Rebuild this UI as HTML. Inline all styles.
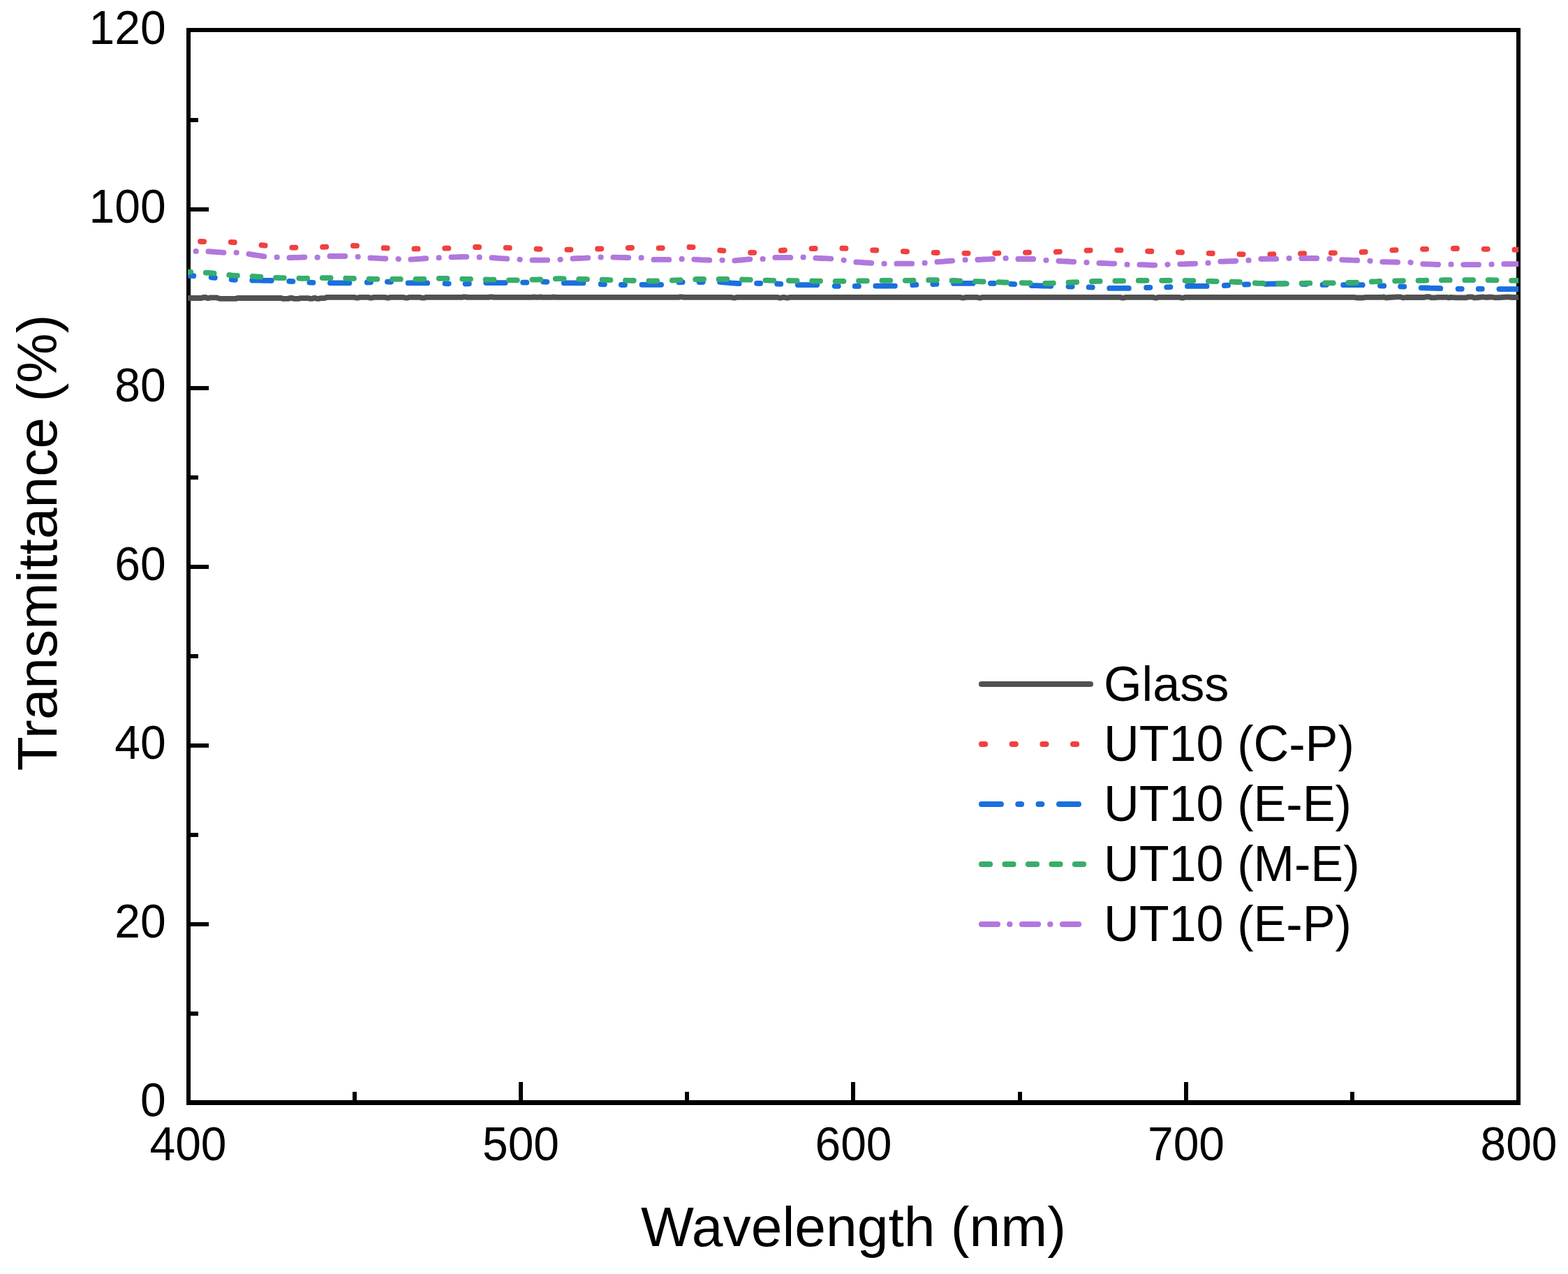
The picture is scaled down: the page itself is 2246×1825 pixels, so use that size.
<!DOCTYPE html>
<html lang="en">
<head>
<meta charset="utf-8">
<title>Transmittance vs Wavelength</title>
<style>
html,body{margin:0;padding:0;background:#fff;}
body{width:2246px;height:1825px;overflow:hidden;}
svg{display:block;}
text{font-family:"Liberation Sans", sans-serif;fill:#000;}
.tick{font-size:66px;}
.title{font-size:80.4px;}
.leg{font-size:70.2px;}
</style>
</head>
<body>
<svg width="2246" height="1825" viewBox="0 0 2246 1825">
<rect x="0" y="0" width="2246" height="1825" fill="#ffffff"/>
<g fill="#000" shape-rendering="crispEdges">
<rect x="267" y="40" width="6" height="1543"/>
<rect x="2172" y="40" width="6" height="1543"/>
<rect x="267" y="40" width="1911" height="6"/>
<rect x="267" y="1576" width="1911" height="7"/>
<rect x="273" y="1449" width="11" height="6"/>
<rect x="273" y="1321" width="26" height="6"/>
<rect x="273" y="1193" width="11" height="6"/>
<rect x="273" y="1065" width="26" height="6"/>
<rect x="273" y="937" width="11" height="6"/>
<rect x="273" y="809" width="26" height="6"/>
<rect x="273" y="681" width="11" height="6"/>
<rect x="273" y="553" width="26" height="6"/>
<rect x="273" y="425" width="11" height="6"/>
<rect x="273" y="297" width="26" height="6"/>
<rect x="273" y="169" width="11" height="6"/>
<rect x="505" y="1564" width="6" height="12"/>
<rect x="743" y="1550" width="6" height="26"/>
<rect x="981" y="1564" width="6" height="12"/>
<rect x="1219" y="1550" width="6" height="26"/>
<rect x="1458" y="1564" width="6" height="12"/>
<rect x="1696" y="1550" width="6" height="26"/>
<rect x="1934" y="1564" width="6" height="12"/>
</g>
<defs><clipPath id="plot"><rect x="269" y="40" width="1906" height="1543"/></clipPath></defs>
<g clip-path="url(#plot)" fill="none" stroke-width="7.8" stroke-linecap="round" stroke-linejoin="round">
<path d="M262.0 427.0 L289.0 427.0 L291.0 426.0 L295.0 426.0 L297.0 427.2 L299.0 427.2 L301.0 426.3 L310.0 426.3 L315.0 427.9 L338.0 427.9 L340.0 427.0 L403.0 427.0 L405.0 427.9 L413.0 427.9 L415.0 427.0 L419.0 427.0 L421.0 427.9 L428.0 427.9 L430.0 427.1 L442.0 427.1 L444.0 427.9 L447.0 427.9 L449.0 427.0 L452.0 427.0 L454.0 427.9 L457.0 427.9 L459.0 427.1 L465.0 427.1 L468.0 425.9 L508.0 425.9 L510.0 426.7 L513.0 426.7 L515.0 425.9 L528.0 425.9 L530.0 426.7 L533.0 426.7 L535.0 425.9 L552.0 425.9 L554.0 426.7 L557.0 426.7 L559.0 425.9 L578.0 425.9 L580.0 426.6 L584.0 426.6 L586.0 425.9 L602.0 425.9 L604.0 426.6 L608.0 426.6 L610.0 425.9 L662.0 425.9 L664.0 425.3 L667.0 425.3 L669.0 425.9 L700.0 425.9 L702.0 425.3 L705.0 425.3 L707.0 425.9 L763.0 425.9 L765.0 425.4 L768.0 425.9 L772.0 425.9 L774.0 425.4 L777.0 425.9 L791.0 425.9 L793.0 425.4 L796.0 425.9 L972.0 425.9 L974.0 425.3 L977.0 425.3 L979.0 425.9 L1048.0 425.9 L1050.0 426.6 L1053.0 426.6 L1055.0 425.9 L1114.0 425.9 L1116.0 426.6 L1119.0 426.6 L1121.0 425.9 L1124.0 425.9 L1126.0 426.6 L1129.0 426.6 L1131.0 425.9 L1376.0 425.9 L1378.0 426.6 L1381.0 426.6 L1383.0 425.9 L1400.0 425.9 L1402.0 426.6 L1405.0 426.6 L1407.0 425.9 L1605.0 425.9 L1607.0 426.6 L1610.0 426.6 L1612.0 425.9 L1652.0 425.9 L1654.0 426.6 L1657.0 426.6 L1659.0 425.9 L1690.0 425.9 L1692.0 426.6 L1695.0 426.6 L1697.0 425.9 L1940.0 425.9 L1943.0 426.5 L1953.0 426.5 L1956.0 425.9 L1980.0 425.9 L1982.0 425.3 L1985.0 426.5 L1990.0 426.0 L2002.0 425.4 L2006.0 425.4 L2010.0 426.5 L2014.0 426.0 L2040.0 426.0 L2043.0 425.2 L2047.0 425.2 L2050.0 426.4 L2056.0 426.4 L2059.0 425.8 L2072.0 425.8 L2075.0 426.5 L2078.0 425.8 L2086.0 426.4 L2100.0 426.4 L2104.0 425.3 L2108.0 425.3 L2112.0 426.6 L2118.0 426.0 L2124.0 425.3 L2128.0 426.0 L2136.0 425.5 L2142.0 426.3 L2150.0 426.0 L2160.0 425.4 L2166.0 426.0 L2180.0 425.8" stroke="#515151"/>
<path d="M287.0 346.0 L292.2 346.1M330.7 346.8 L335.9 347.2M374.5 351.2 L379.7 351.6M418.3 354.6 L423.5 354.7M462.1 353.9 L467.3 353.7M505.9 352.0 L511.1 352.2M549.6 355.2 L554.8 355.5M593.4 356.4 L598.6 356.4M637.2 355.7 L642.4 355.6M681.0 354.0 L686.2 354.0M724.7 354.9 L729.9 355.1M768.5 356.7 L773.7 356.8M812.3 357.6 L817.5 357.6M856.1 356.5 L861.3 356.3M899.8 355.1 L905.0 355.0M943.6 355.4 L948.8 355.3M987.4 354.0 L992.6 354.2M1031.2 358.6 L1036.4 359.1M1075.0 361.8 L1080.2 361.8M1118.7 358.9 L1123.9 358.5M1162.5 356.2 L1167.7 356.0M1206.3 355.7 L1211.5 355.9M1250.1 358.3 L1255.3 358.5M1293.8 360.1 L1299.0 360.3M1337.6 361.9 L1342.8 362.0M1381.4 362.8 L1386.6 362.9M1425.2 362.8 L1430.4 362.7M1468.9 361.8 L1474.1 361.7M1512.7 360.8 L1517.9 360.6M1556.5 358.8 L1561.7 358.7M1600.3 358.3 L1605.5 358.4M1644.1 359.8 L1649.3 360.0M1687.8 361.3 L1693.0 361.5M1731.6 362.8 L1736.8 363.0M1775.4 364.2 L1780.6 364.3M1819.2 364.3 L1824.4 364.2M1862.9 363.3 L1868.1 363.2M1906.7 362.4 L1911.9 362.3M1950.5 361.2 L1955.7 360.9M1994.3 358.3 L1999.5 358.1M2038.0 356.9 L2043.2 356.8M2081.8 356.0 L2087.0 356.0M2125.6 356.8 L2130.8 356.9M2169.4 357.7 L2174.6 357.7" stroke="#f14040"/>
<path d="M249.7 394.0 L253.6 394.0 L257.6 394.0 L261.5 394.0 L265.5 394.2 L269.4 394.5 L273.3 394.8 L277.3 395.1M302.6 397.3 L307.8 397.8M331.7 400.4 L336.9 400.8M361.3 401.5 L365.3 401.5 L369.2 401.6 L373.1 401.7 L377.1 401.8 L381.0 401.9 L385.0 401.9 L388.9 402.0M414.2 402.9 L419.4 403.1M443.3 404.7 L448.5 404.9M472.9 405.3 L476.9 405.3 L480.8 405.3 L484.8 405.3 L488.7 405.3 L492.7 405.3 L496.6 405.3 L500.5 405.3M525.8 404.5 L531.0 404.3M554.9 403.7 L560.1 403.8M584.6 405.4 L588.5 405.4 L592.5 405.4 L596.4 405.4 L600.3 405.4 L604.3 405.4 L608.2 405.4 L612.2 405.4M637.5 406.2 L642.7 406.3M666.6 406.6 L671.8 406.4M696.2 405.1 L700.1 405.1 L704.1 405.1 L708.0 405.1 L712.0 405.1 L715.9 405.1 L719.9 405.1 L723.8 405.1M749.1 404.7 L754.3 404.6M778.2 403.7 L783.4 403.8M807.8 405.4 L811.8 405.4 L815.7 405.4 L819.7 405.4 L823.6 405.4 L827.5 405.4 L831.5 405.4 L835.4 405.4M860.7 407.0 L865.9 407.3M889.8 408.0 L895.0 408.1M919.5 407.8 L923.4 407.8 L927.3 407.8 L931.3 407.8 L935.2 407.8 L939.2 407.8 L943.1 407.8 L947.1 407.8M972.4 404.4 L977.6 404.1M1001.5 404.1 L1006.7 404.0M1031.1 403.9 L1035.0 404.3 L1039.0 404.6 L1042.9 404.9 L1046.9 405.3 L1050.8 405.6 L1054.7 405.9 L1058.7 406.2M1084.0 405.9 L1089.2 406.0M1113.1 406.5 L1118.3 406.8M1142.7 408.1 L1146.7 408.1 L1150.6 408.1 L1154.5 408.1 L1158.5 408.1 L1162.4 408.1 L1166.4 408.1 L1170.3 408.1M1195.6 409.8 L1200.8 409.9M1224.7 409.9 L1229.9 409.9M1254.3 409.6 L1258.3 409.6 L1262.2 409.6 L1266.2 409.6 L1270.1 409.6 L1274.1 409.6 L1278.0 409.6 L1281.9 409.6M1307.2 408.2 L1312.4 407.9M1336.3 407.0 L1341.5 406.8M1366.0 405.9 L1369.9 405.9 L1373.9 405.9 L1377.8 405.9 L1381.7 405.9 L1385.7 405.9 L1389.6 405.9 L1393.6 405.9M1418.9 405.9 L1424.1 406.0M1448.0 406.8 L1453.2 407.1M1477.6 409.0 L1481.5 409.1 L1485.5 409.2 L1489.4 409.3 L1493.4 409.5 L1497.3 409.6 L1501.3 409.7 L1505.2 409.8M1530.5 410.4 L1535.7 410.5M1559.6 411.3 L1564.8 411.6M1589.2 412.9 L1593.2 412.9 L1597.1 412.9 L1601.1 412.9 L1605.0 412.9 L1608.9 412.9 L1612.9 412.9 L1616.8 412.9M1642.1 412.0 L1647.3 411.8M1671.2 411.4 L1676.4 411.2M1700.9 409.9 L1704.8 409.9 L1708.7 409.9 L1712.7 409.9 L1716.6 409.9 L1720.6 409.9 L1724.5 409.9 L1728.5 409.9M1753.8 409.0 L1759.0 408.7M1782.9 407.5 L1788.1 407.3M1812.5 406.8 L1816.4 406.8 L1820.4 406.7 L1824.3 406.6 L1828.3 406.5 L1832.2 406.4 L1836.1 406.3 L1840.1 406.2M1865.4 406.9 L1870.6 407.1M1894.5 407.9 L1899.7 407.9M1924.1 408.2 L1928.1 408.2 L1932.0 408.2 L1935.9 408.2 L1939.9 408.2 L1943.8 408.2 L1947.8 408.2 L1951.7 408.2M1977.0 409.3 L1982.2 409.5M2006.1 410.3 L2011.3 410.6M2035.7 412.3 L2039.7 412.4 L2043.6 412.5 L2047.6 412.7 L2051.5 412.8 L2055.5 412.9 L2059.4 413.0 L2063.3 413.2M2088.6 413.8 L2093.8 413.8M2117.7 413.8 L2122.9 413.8M2147.4 414.1 L2151.3 414.1 L2155.3 414.1 L2159.2 414.1 L2163.1 414.1 L2167.1 414.1 L2171.0 414.1 L2175.0 414.1" stroke="#1a6fdf"/>
<path d="M261.4 389.2 L265.3 389.3 L269.2 389.5 L273.2 389.6M294.8 390.7 L298.7 390.9 L302.6 391.2 L306.6 391.6M328.2 393.9 L332.1 394.3 L336.0 394.6 L340.0 394.8M361.6 395.9 L365.5 396.1 L369.4 396.3 L373.4 396.6M395.0 397.8 L398.9 398.0 L402.8 398.1 L406.8 398.2M428.4 398.7 L432.3 398.8 L436.2 398.8 L440.2 398.7M461.8 398.2 L465.7 398.1 L469.6 398.1 L473.6 398.2M495.2 398.7 L499.1 398.8 L503.0 398.9 L507.0 399.0M528.6 399.6 L532.5 399.7 L536.4 399.8 L540.4 399.8M562.0 399.9 L565.9 399.9 L569.8 399.9 L573.8 399.9M595.4 399.9 L599.3 399.9 L603.2 399.8 L607.2 399.7M628.8 398.9 L632.7 398.8 L636.6 398.8 L640.6 398.9M662.2 399.7 L666.1 399.8 L670.0 399.9 L674.0 400.0M695.6 400.5 L699.5 400.6 L703.4 400.7 L707.4 400.7M729.0 401.3 L732.9 401.4 L736.8 401.4 L740.8 401.3M762.4 400.7 L766.3 400.6 L770.2 400.5 L774.2 400.3M795.8 399.3 L799.7 399.2 L803.6 399.2 L807.6 399.3M829.2 399.8 L833.1 399.9 L837.0 400.0 L841.0 400.1M862.6 400.7 L866.5 400.9 L870.4 401.0 L874.4 401.1M896.0 401.7 L899.9 401.8 L903.8 401.9 L907.8 402.0M929.4 402.5 L933.3 402.6 L937.2 402.5 L941.2 402.4M962.8 401.6 L966.7 401.4 L970.6 401.3 L974.6 401.1M996.2 400.2 L1000.1 400.0 L1004.0 399.9 L1008.0 399.9M1029.6 399.9 L1033.5 399.9 L1037.4 399.9 L1041.4 400.0M1063.0 400.5 L1066.9 400.6 L1070.8 400.7 L1074.8 400.8M1096.4 401.6 L1100.3 401.7 L1104.2 401.8 L1108.2 401.9M1129.8 402.0 L1133.7 402.1 L1137.6 402.1 L1141.6 402.2M1163.2 402.5 L1167.1 402.6 L1171.0 402.6 L1175.0 402.7M1196.6 402.8 L1200.5 402.9 L1204.4 402.9 L1208.4 402.8M1230.0 402.5 L1233.9 402.4 L1237.8 402.4 L1241.8 402.3M1263.4 401.9 L1267.3 401.8 L1271.2 401.8 L1275.2 401.8M1296.8 401.8 L1300.7 401.8 L1304.6 401.8 L1308.5 401.7M1330.1 401.2 L1334.1 401.2 L1338.0 401.1 L1341.9 401.2M1363.5 401.9 L1367.5 402.0 L1371.4 402.2 L1375.3 402.3M1396.9 403.1 L1400.9 403.2 L1404.8 403.4 L1408.7 403.5M1430.3 404.2 L1434.3 404.3 L1438.2 404.5 L1442.1 404.6M1463.7 405.2 L1467.7 405.4 L1471.6 405.4 L1475.5 405.5M1497.1 405.8 L1501.1 405.9 L1505.0 405.8 L1508.9 405.6M1530.5 404.6 L1534.5 404.5 L1538.4 404.3 L1542.3 404.1M1563.9 403.2 L1567.9 403.0 L1571.8 402.9 L1575.7 402.8M1597.3 402.5 L1601.3 402.4 L1605.2 402.4 L1609.1 402.3M1630.7 401.9 L1634.7 401.8 L1638.6 401.8 L1642.5 401.8M1664.1 401.8 L1668.1 401.8 L1672.0 401.8 L1675.9 401.9M1697.5 402.0 L1701.5 402.1 L1705.4 402.1 L1709.3 402.2M1730.9 402.8 L1734.9 402.8 L1738.8 403.0 L1742.7 403.1M1764.3 403.7 L1768.3 403.8 L1772.2 404.0 L1776.1 404.2M1797.7 405.5 L1801.7 405.8 L1805.6 405.9 L1809.5 406.0M1831.1 406.4 L1835.1 406.4 L1839.0 406.5 L1842.9 406.4M1864.5 405.9 L1868.5 405.8 L1872.4 405.7 L1876.3 405.7M1897.9 405.5 L1901.9 405.4 L1905.8 405.4 L1909.7 405.3M1931.3 405.0 L1935.3 404.9 L1939.2 404.8 L1943.1 404.6M1964.7 403.5 L1968.7 403.3 L1972.6 403.2 L1976.5 403.0M1998.1 402.5 L2002.1 402.4 L2006.0 402.3 L2009.9 402.2M2031.5 401.9 L2035.5 401.8 L2039.4 401.8 L2043.3 401.7M2064.9 401.3 L2068.9 401.2 L2072.8 401.2 L2076.7 401.2M2098.3 401.2 L2102.3 401.2 L2106.2 401.2 L2110.1 401.2M2131.7 401.2 L2135.7 401.2 L2139.6 401.3 L2143.5 401.3M2165.1 401.8 L2169.1 401.8 L2173.0 401.8 L2176.9 401.8" stroke="#37ad6b"/>
<path d="M240.4 359.9 L244.8 359.9 L249.2 359.9 L253.6 359.9 L258.0 359.9 L262.4 359.9M280.5 359.9 L280.9 359.9M298.4 360.2 L302.8 360.5 L307.2 360.8 L311.6 361.1 L316.0 361.4 L320.4 361.8M338.5 361.8 L338.9 361.8M356.4 363.9 L360.8 364.6 L365.2 365.3 L369.6 366.0 L374.0 366.7 L378.4 367.4M396.5 368.4 L396.9 368.4M414.4 369.2 L418.8 369.0 L423.2 368.9 L427.6 368.8 L432.0 368.6 L436.4 368.5M454.5 368.7 L454.9 368.7M472.4 367.0 L476.8 367.0 L481.2 367.0 L485.6 367.0 L490.0 367.0 L494.4 367.0M512.5 367.8 L512.9 367.8M530.4 369.5 L534.8 369.7 L539.2 369.9 L543.6 370.1 L548.0 370.3 L552.3 370.5M570.5 371.0 L570.9 371.1M588.4 371.7 L592.8 371.4 L597.2 371.1 L601.6 370.8 L606.0 370.5 L610.3 370.2M628.5 369.2 L628.9 369.2M646.4 368.4 L650.8 368.3 L655.2 368.1 L659.6 368.0 L663.9 367.9 L668.3 367.8M686.5 368.5 L686.9 368.5M704.4 369.2 L708.8 369.5 L713.2 369.8 L717.5 370.1 L721.9 370.4 L726.3 370.7M744.4 371.7 L744.8 371.8M762.4 372.6 L766.8 372.6 L771.2 372.6 L775.5 372.6 L779.9 372.6 L784.3 372.6M802.4 371.9 L802.8 371.8M820.4 370.5 L824.8 370.2 L829.1 370.0 L833.5 369.8 L837.9 369.6 L842.3 369.3M860.4 368.5 L860.8 368.5M878.4 368.6 L882.7 368.7 L887.1 368.8 L891.5 368.9 L895.9 369.0 L900.3 369.1M918.4 369.2 L918.8 369.2M936.4 371.9 L940.7 371.9 L945.1 371.9 L949.5 371.9 L953.9 371.9 L958.3 371.9M976.4 371.0 L976.8 371.0M994.3 371.6 L998.7 371.8 L1003.1 372.1 L1007.5 372.3 L1011.9 372.5 L1016.3 372.7M1034.4 372.6 L1034.8 372.7M1052.3 373.3 L1056.7 372.9 L1061.1 372.5 L1065.5 372.1 L1069.9 371.7 L1074.3 371.3M1092.4 370.9 L1092.8 370.9M1110.3 368.9 L1114.7 368.9 L1119.1 368.9 L1123.5 368.9 L1127.9 368.9 L1132.3 368.9M1150.4 368.5 L1150.8 368.5M1168.3 369.7 L1172.7 369.8 L1177.1 370.0 L1181.5 370.2 L1185.9 370.4 L1190.3 370.6M1208.4 372.6 L1208.8 372.7M1226.3 375.5 L1230.7 375.7 L1235.1 376.0 L1239.5 376.3 L1243.9 376.5 L1248.3 376.8M1266.4 377.7 L1266.8 377.7M1284.3 377.7 L1288.7 377.7 L1293.1 377.7 L1297.5 377.7 L1301.9 377.7 L1306.2 377.7M1324.4 376.7 L1324.8 376.7M1342.3 375.2 L1346.7 374.9 L1351.1 374.6 L1355.5 374.2 L1359.8 373.9 L1364.2 373.6M1382.4 372.2 L1382.8 372.2M1400.3 372.0 L1404.7 371.8 L1409.1 371.5 L1413.5 371.3 L1417.8 371.1 L1422.2 370.9M1440.3 369.9 L1440.8 369.9M1458.3 371.0 L1462.7 371.0 L1467.1 371.0 L1471.4 371.0 L1475.8 371.0 L1480.2 371.0M1498.3 372.8 L1498.7 372.8M1516.3 373.9 L1520.7 374.1 L1525.0 374.3 L1529.4 374.5 L1533.8 374.8 L1538.2 375.0M1556.3 375.9 L1556.7 375.9M1574.3 376.8 L1578.7 377.0 L1583.0 377.2 L1587.4 377.4 L1591.8 377.6 L1596.2 377.7M1614.3 378.9 L1614.7 378.9M1632.3 379.1 L1636.6 379.2 L1641.0 379.4 L1645.4 379.6 L1649.8 379.8 L1654.2 379.9M1672.3 379.0 L1672.7 378.9M1690.2 378.4 L1694.6 378.3 L1699.0 378.1 L1703.4 377.9 L1707.8 377.8 L1712.2 377.6M1730.3 376.7 L1730.7 376.7M1748.2 374.7 L1752.6 374.6 L1757.0 374.4 L1761.4 374.2 L1765.8 374.1 L1770.2 373.9M1788.3 372.9 L1788.7 372.9M1806.2 371.0 L1810.6 370.9 L1815.0 370.9 L1819.4 370.9 L1823.8 370.9 L1828.2 370.8M1846.3 370.0 L1846.7 370.0M1864.2 370.0 L1868.6 370.0 L1873.0 370.0 L1877.4 370.0 L1881.8 370.0 L1886.2 370.0M1904.3 370.7 L1904.7 370.7M1922.2 372.1 L1926.6 372.3 L1931.0 372.5 L1935.4 372.7 L1939.8 372.8 L1944.2 373.0M1962.3 373.7 L1962.7 373.8M1980.2 375.1 L1984.6 375.2 L1989.0 375.3 L1993.4 375.4 L1997.8 375.5 L2002.1 375.6M2020.3 375.9 L2020.7 376.0M2038.2 378.1 L2042.6 378.3 L2047.0 378.4 L2051.4 378.6 L2055.8 378.8 L2060.1 379.0M2078.3 378.7 L2078.7 378.7M2096.2 379.1 L2100.6 379.1 L2105.0 379.1 L2109.4 379.1 L2113.7 379.1 L2118.1 379.1M2136.3 378.7 L2136.7 378.7M2154.2 378.2 L2158.6 378.2 L2163.0 378.2 L2167.3 378.2 L2171.7 378.2 L2176.1 378.2" stroke="#b177de"/>
</g>
<text class="tick" transform="translate(237.6 1599.0) scale(1 1.035)" text-anchor="end">0</text>
<text class="tick" transform="translate(237.6 1343.0) scale(1 1.035)" text-anchor="end">20</text>
<text class="tick" transform="translate(237.6 1087.0) scale(1 1.035)" text-anchor="end">40</text>
<text class="tick" transform="translate(237.6 831.0) scale(1 1.035)" text-anchor="end">60</text>
<text class="tick" transform="translate(237.6 575.0) scale(1 1.035)" text-anchor="end">80</text>
<text class="tick" transform="translate(237.6 319.0) scale(1 1.035)" text-anchor="end">100</text>
<text class="tick" transform="translate(237.6 63.0) scale(1 1.035)" text-anchor="end">120</text>
<text class="tick" transform="translate(269.5 1662) scale(1 1.035)" text-anchor="middle">400</text>
<text class="tick" transform="translate(746.0 1662) scale(1 1.035)" text-anchor="middle">500</text>
<text class="tick" transform="translate(1222.5 1662) scale(1 1.035)" text-anchor="middle">600</text>
<text class="tick" transform="translate(1699.0 1662) scale(1 1.035)" text-anchor="middle">700</text>
<text class="tick" transform="translate(2175.5 1662) scale(1 1.035)" text-anchor="middle">800</text>
<text class="title" x="1222.5" y="1784.8" text-anchor="middle">Wavelength (nm)</text>
<text class="title" transform="translate(81.3 777.4) rotate(-90)" text-anchor="middle">Transmittance (%)</text>
<line x1="1405.9" y1="980.0" x2="1562" y2="980.0" stroke="#515151" stroke-width="8" stroke-linecap="round"/>
<text class="leg" transform="translate(1581 1004.0) scale(1 1.0)">Glass</text>
<line x1="1405.9" y1="1066.0" x2="1562" y2="1066.0" stroke="#f14040" stroke-width="8" stroke-linecap="round" stroke-dasharray="5.2 38.5"/>
<text class="leg" transform="translate(1581 1090.0) scale(1 1.03)">UT10 (C-P)</text>
<line x1="1405.9" y1="1152.0" x2="1562" y2="1152.0" stroke="#1a6fdf" stroke-width="8" stroke-linecap="round" stroke-dasharray="28 24.4 4.8 24.4 4.8 24.7"/>
<text class="leg" transform="translate(1581 1176.0) scale(1 1.03)">UT10 (E-E)</text>
<line x1="1405.9" y1="1238.0" x2="1562" y2="1238.0" stroke="#37ad6b" stroke-width="8" stroke-linecap="round" stroke-dasharray="12.2 21.3"/>
<text class="leg" transform="translate(1581 1262.0) scale(1 1.03)">UT10 (M-E)</text>
<line x1="1405.9" y1="1324.0" x2="1562" y2="1324.0" stroke="#b177de" stroke-width="8" stroke-linecap="round" stroke-dasharray="23.2 17 0.4 17.4"/>
<text class="leg" transform="translate(1581 1348.0) scale(1 1.03)">UT10 (E-P)</text>
</svg>
</body>
</html>
